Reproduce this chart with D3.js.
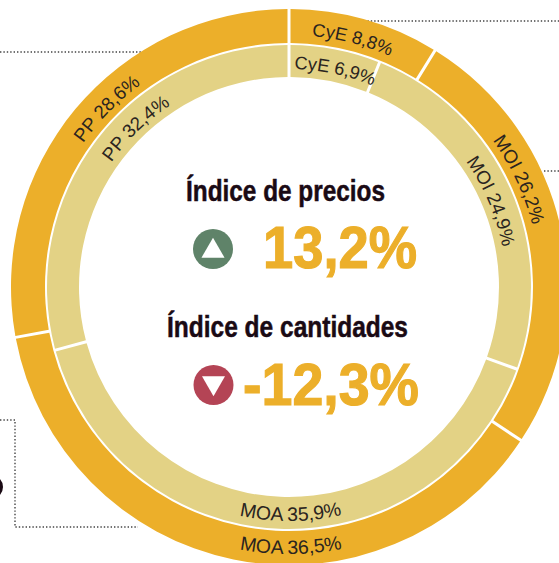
<!DOCTYPE html>
<html><head><meta charset="utf-8">
<script src="https://cdn.jsdelivr.net/npm/d3@7/dist/d3.min.js"></script>
<style>html,body{margin:0;padding:0;background:#fff;overflow:hidden}svg{display:block}</style>
</head><body><svg id="c" width="559" height="563"></svg>
<script>
const categories = ["CyE","MOI","MOA","PP"];
const outerValues = [8.8,26.2,36.5,28.6];
const innerValues = [6.9,24.9,35.9,32.4];
// shares as actually drawn in the picture (percent of circle)
const outerDrawn = [8.8,25.5,37.8,27.9];
const innerDrawn = [6.1,24.4,40.3,29.2];
const headlines = ["Índice de precios","Índice de cantidades"];
const indexValues = ["13,2%","-12,3%"];

const W=559,H=563,cx=289,cy=287;
const svg=d3.select("#c");
const fmt=v=>String(v).replace(".",",")+"%";
const rad=d=>d*Math.PI/180;

// leader lines
const dotted=d3.line();
[[[0,52],[145,52]],[[364,21],[559,21]],[[544,171],[559,171]],[[0,420],[15,420],[15,527],[138,527]]].forEach(p=>{
  svg.append("path").attr("d",dotted(p)).attr("fill","none").attr("stroke","#444").attr("stroke-width",1.4).attr("stroke-dasharray","1.4 2");
});
svg.append("circle").attr("cx",-9).attr("cy",487).attr("r",10.5).attr("fill","none").attr("stroke","#1a0a14").attr("stroke-width",3);

const pie=d3.pie().sort(null).value(d=>d);
const g=svg.append("g").attr("transform",`translate(${cx},${cy})`);
function ring(vals,r0,r1,color){
  const arc=d3.arc().innerRadius(r0).outerRadius(r1).padAngle(0.03).padRadius(100);
  g.append("g").selectAll("path").data(pie(vals)).join("path").attr("d",arc).attr("fill",color);
}
ring(outerDrawn,244,278,"#ECAF2A");
ring(innerDrawn,210,242,"#E3D285");

// curved labels: [ring values, category index, mid angle deg, baseline radius, flip, size]
const labelSpec=[
 [outerValues,0,14.4,252,false,18.2],[outerValues,1,65,251,false,18.8],[outerValues,2,179.6,267,true,19.4],[outerValues,3,314.4,251,false,18.8],
 [innerValues,0,12,218,false,18.2],[innerValues,1,67,217,false,18.8],[innerValues,2,179.6,234,true,19.4],[innerValues,3,316,217,false,18.8]];
const defs=svg.append("defs");
labelSpec.forEach((s,i)=>{
  const [vals,k,mid,r,flip,size]=s;
  const p=d3.path();
  const a=rad(mid-90);
  if(flip){p.arc(0,0,r,a+1.2,a-1.2,true);} else {p.arc(0,0,r,a-1.2,a+1.2,false);}
  defs.append("path").attr("id","lp"+i).attr("d",p.toString());
  g.append("text").attr("font-family","'Liberation Sans',Arial,sans-serif").attr("font-size",size).attr("fill","#2a2420")
    .append("textPath").attr("href","#lp"+i).attr("startOffset","50%").attr("text-anchor","middle")
    .text(categories[k]+" "+fmt(vals[k]));
});

// centre text
const narrow="'Liberation Sans Narrow','Liberation Sans',Arial,sans-serif";
function fit(txt,x0,x1,base,size,color,thick){
  svg.append("text").attr("x",x0).attr("y",base).attr("font-family",narrow).attr("font-weight",700)
    .attr("font-size",size).attr("fill",color).attr("stroke",color).attr("stroke-width",thick)
    .attr("textLength",x1-x0).attr("lengthAdjust","spacingAndGlyphs").text(txt);
}
fit(headlines[0],186,385,201,29,"#1a0a14",0.5);
fit(headlines[1],167,408,337,29,"#1a0a14",0.5);
fit(indexValues[0],263,417,268,60,"#ECAF2A",1.2);
fit(indexValues[1],243,419,405,60,"#ECAF2A",1.2);

const tri=d3.symbol().type(d3.symbolTriangle).size(230);
svg.append("circle").attr("cx",213).attr("cy",249).attr("r",20).attr("fill","#5F8369");
svg.append("path").attr("d",tri()).attr("fill","#fff").attr("transform","translate(213,251)");
svg.append("circle").attr("cx",213.5).attr("cy",385).attr("r",20).attr("fill","#B44455");
svg.append("path").attr("d",tri()).attr("fill","#fff").attr("transform","translate(213.5,383) rotate(180)");
</script></body></html>
